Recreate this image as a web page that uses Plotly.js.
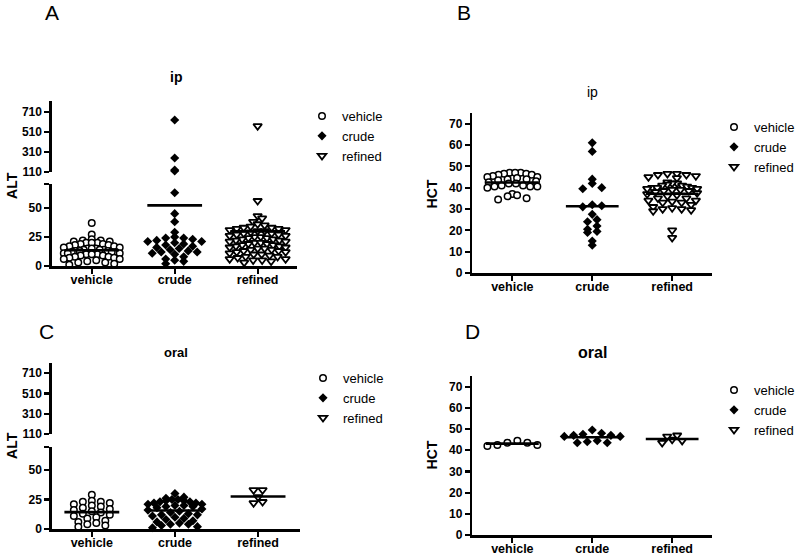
<!DOCTYPE html>
<html>
<head>
<meta charset="utf-8">
<script src="https://cdn.plot.ly/plotly-3.0.1.min.js"></script>
<style>html,body{margin:0;padding:0;background:#fff}#chart{width:800px;height:555px}</style>
</head>
<body>
<div id="chart"></div>
<script>
// ---------- data ----------
const groups = ['vehicle', 'crude', 'refined'];

// Panel A: ALT, ip
const altIpVehicle = [37, 27, 23, 22, 22, 21, 21, 20, 20, 20, 19, 19, 18, 18, 17, 17, 16, 16, 15, 15, 15, 14, 14, 14, 13, 13, 13, 12, 12, 12, 11, 11, 11, 10, 10, 10, 9, 9, 8, 8, 7, 7, 6, 6, 5, 4, 3, 3, 2, 1];
const altIpCrude = [630, 250, 130, 120, 63, 45, 38, 29, 25, 24, 24, 23, 22, 21, 21, 20, 19, 18, 17, 16, 15, 14, 13, 12, 12, 11, 10, 8, 6, 5, 4, 2];
const altIpRefined = [570, 56, 43, 41, 38, 36, 35, 34, 33, 33, 32, 32, 31, 31, 30, 30, 29, 28, 28, 27, 27, 26, 26, 25, 25, 24, 24, 23, 23, 22, 22, 21, 21, 20, 20, 19, 19, 18, 18, 17, 17, 16, 16, 15, 15, 14, 14, 13, 13, 12, 12, 11, 10, 10, 9, 8, 8, 7, 6, 6, 5, 5, 4, 3];

// Panel B: HCT, ip
const hctIpVehicle = [47, 46.5, 47, 46, 46.5, 47, 46, 45.5, 45, 45, 44.5, 44, 44, 43.5, 43, 42.5, 42, 42, 41, 40.5, 40.5, 40, 40.5, 41, 37, 36, 34.5, 35, 36.5];
const hctIpCrude = [61, 57, 44, 42, 40, 39.5, 32, 31.5, 31, 27.5, 25, 24, 22, 20.5, 19.5, 19, 15, 13];
const hctIpRefined = [46.5, 46.5, 46, 46, 45.5, 45, 44.5, 42.5, 42, 42, 41.5, 41, 41, 40.5, 40, 40, 40, 39.5, 39.5, 39, 39, 38.5, 38.5, 38, 37.5, 37, 36.5, 36, 35, 35, 34, 34, 33.5, 33, 33, 32, 31, 30.5, 30, 30, 29.5, 29, 20, 16.5];

// Panel C: ALT, oral
const altOralVehicle = [29, 24, 23, 23, 22, 21, 20, 19, 18, 17, 16, 15, 14, 13, 12, 11, 10, 9, 7, 6, 5, 4, 3, 2];
const altOralCrude = [30, 27, 26, 25, 25, 24, 24, 23, 23, 22, 22, 21, 21, 20, 20, 19, 19, 18, 17, 16, 15, 14, 13, 12, 12, 11, 10, 9, 8, 7, 6, 5, 4, 4, 3, 2, 1];
const altOralRefined = [33, 33, 27, 22, 23];

// Panel D: HCT, oral
const hctOralVehicle = [43.5, 42.5, 42, 44.5, 42.5, 43.5];
const hctOralCrude = [46.5, 47.5, 49.5, 44, 47, 48, 43.5, 46.5, 43.5, 47, 44.5];
const hctOralRefined = [47, 45, 43.5, 44.5, 46.5];

// axis ticks
const altLowTicks = [0, 25, 50];
const altHighTicks = [110, 310, 510, 710];
const hctTicks = [0, 10, 20, 30, 40, 50, 60, 70];
const altBreak = 110;

// ---------- layout helpers ----------
const W = 800, H = 555;
const FONT = 'Arial, "Liberation Sans", sans-serif';
const py = p => 1 - p / H;
const px = p => p / W;

const markerStyles = [
  {symbol: 'circle', size: 6.5, color: '#ffffff', line: {color: '#000000', width: 1.5}},
  {symbol: 'diamond', size: 7, color: '#000000', line: {color: '#000000', width: 0}},
  {symbol: 'triangle-down', size: 7.5, color: '#ffffff', line: {color: '#000000', width: 1.8}}
];

const panels = [
  {xa: 'x', xkey: 'xaxis', xdom: [52, 297], xr: [-0.48, 2.47], legend: 'legend',
   low: {ya: 'y', key: 'yaxis', dom: [266, 184], r: [0, 70.5], ticks: altLowTicks, cap: true},
   high: {ya: 'y2', key: 'yaxis2', dom: [172, 101], r: [109.5, 820], ticks: altHighTicks},
   data: [altIpVehicle, altIpCrude, altIpRefined], sw: {bin: 6, sp: 9, maxW: 56}},
  {xa: 'x2', xkey: 'xaxis2', xdom: [473, 713], xr: [-0.5, 2.5], legend: 'legend2',
   low: {ya: 'y3', key: 'yaxis3', dom: [273, 113], r: [0, 75], ticks: hctTicks},
   data: [hctIpVehicle, hctIpCrude, hctIpRefined], sw: {bin: 6, sp: 9.5, maxW: 50}},
  {xa: 'x3', xkey: 'xaxis3', xdom: [52, 300], xr: [-0.48, 2.5], legend: 'legend3',
   low: {ya: 'y4', key: 'yaxis4', dom: [529, 447], r: [0, 69.5], ticks: altLowTicks, cap: true},
   high: {ya: 'y5', key: 'yaxis5', dom: [434, 363], r: [109.5, 810], ticks: altHighTicks},
   data: [altOralVehicle, altOralCrude, altOralRefined], sw: {bin: 6, sp: 9, maxW: 54}},
  {xa: 'x4', xkey: 'xaxis4', xdom: [473, 713], xr: [-0.5, 2.5], legend: 'legend4',
   low: {ya: 'y6', key: 'yaxis6', dom: [535, 376], r: [0, 75], ticks: hctTicks},
   data: [hctOralVehicle, hctOralCrude, hctOralRefined], sw: {bin: 16, sp: 10, maxW: 56}}
];

// deterministic row-binned dot plot layout (Prism style): points that fall in the same
// pixel row are spread side by side; returns horizontal offsets in axis units
function swarm(vals, ppuY, ppuX, sw) {
  const rows = {};
  vals.forEach((v, i) => {
    const b = Math.floor(v * ppuY / sw.bin);
    (rows[b] = rows[b] || []).push(i);
  });
  const off = new Array(vals.length).fill(0);
  Object.keys(rows).forEach(k => {
    const ids = rows[k].sort((a, b) => vals[a] - vals[b]);
    const n = ids.length;
    const sp = Math.min(sw.sp, n > 1 ? sw.maxW / (n - 1) : sw.sp);
    const slots = [];
    for (let j = 0; j < n; j++) slots.push((j - (n - 1) / 2) * sp);
    const order = [];
    let l = 0, r = n - 1;
    while (l <= r) { order.push(l++); if (l <= r) order.push(r--); }
    ids.forEach((id, j) => { off[id] = slots[order[j]] / ppuX; });
  });
  return off;
}

const traces = [];
const layout = {
  width: W, height: H,
  margin: {l: 0, r: 0, t: 0, b: 0},
  paper_bgcolor: '#ffffff', plot_bgcolor: 'rgba(0,0,0,0)',
  font: {family: FONT, color: '#000000'},
  showlegend: true,
  annotations: []
};

function yAxisDef(spec, xa) {
  const tv = spec.ticks.slice();
  const tt = spec.ticks.map(String);
  if (spec.cap) { tv.push(spec.r[1] - 0.2); tt.push(''); }
  return {
    domain: [py(spec.dom[0]), py(spec.dom[1])], range: spec.r, anchor: xa,
    tickvals: tv, ticktext: tt, ticks: 'outside', ticklen: 5, tickwidth: 2.2, tickcolor: '#000',
    showline: true, linewidth: 2.6, linecolor: '#000', showgrid: false, zeroline: false,
    tickfont: {family: FONT, size: 12, weight: 'bold', color: '#000'}, fixedrange: true
  };
}

panels.forEach((P, pi) => {
  const xWidth = P.xdom[1] - P.xdom[0];
  const ppuX = xWidth / (P.xr[1] - P.xr[0]);
  layout[P.xkey] = {
    domain: [px(P.xdom[0]), px(P.xdom[1])], range: P.xr, anchor: P.low.ya,
    tickvals: [0, 1, 2], ticktext: groups, ticks: 'outside', ticklen: 5, tickwidth: 2.2, tickcolor: '#000',
    ticklabelstandoff: -5,
    showline: true, linewidth: 2.6, linecolor: '#000', showgrid: false, zeroline: false,
    tickfont: {family: FONT, size: 12.5, weight: 'bold', color: '#000'}, fixedrange: true
  };
  layout[P.low.key] = yAxisDef(P.low, P.xa);
  if (P.high) layout[P.high.key] = yAxisDef(P.high, P.xa);

  const ppuLow = (P.low.dom[0] - P.low.dom[1]) / (P.low.r[1] - P.low.r[0]);
  const ppuHigh = P.high ? (P.high.dom[0] - P.high.dom[1]) / (P.high.r[1] - P.high.r[0]) : 0;

  P.data.forEach((vals, gi) => {
    const lowVals = P.high ? vals.filter(v => v < altBreak) : vals.slice();
    const lowOff = swarm(lowVals, ppuLow, ppuX, P.sw);
    traces.push({
      type: 'scatter', mode: 'markers', name: groups[gi], legend: P.legend,
      x: lowOff.map(o => gi + o), y: lowVals, xaxis: P.xa, yaxis: P.low.ya,
      marker: markerStyles[gi], cliponaxis: false, hoverinfo: 'skip'
    });
    if (P.high) {
      const highVals = vals.filter(v => v >= altBreak);
      const highOff = swarm(highVals, ppuHigh, ppuX, P.sw);
      traces.push({
        type: 'scatter', mode: 'markers', name: groups[gi], showlegend: false,
        x: highOff.map(o => gi + o), y: highVals, xaxis: P.xa, yaxis: P.high.ya,
        marker: markerStyles[gi], cliponaxis: false, hoverinfo: 'skip'
      });
    }
  });
  // mean lines
  P.data.forEach((vals, gi) => {
    const m = vals.reduce((a, b) => a + b, 0) / vals.length;
    traces.push({
      type: 'scatter', mode: 'lines', showlegend: false, hoverinfo: 'skip',
      x: [gi - 0.33, gi + 0.33], y: [m, m], xaxis: P.xa, yaxis: P.low.ya,
      line: {color: '#000', width: 2.6}, cliponaxis: false
    });
  });
});

const legendBase = {xanchor: 'left', yanchor: 'top', bgcolor: 'rgba(0,0,0,0)', borderwidth: 0,
  font: {family: FONT, size: 13, color: '#000'}, itemwidth: 30, tracegroupgap: 0};
layout.legend = Object.assign({x: px(302), y: py(101)}, legendBase);
layout.legend2 = Object.assign({x: px(715), y: py(112)}, legendBase);
layout.legend3 = Object.assign({x: px(303), y: py(363)}, legendBase);
layout.legend4 = Object.assign({x: px(715), y: py(375)}, legendBase);

function ann(text, x, y, size, weight, angle) {
  layout.annotations.push({
    text: text, xref: 'paper', yref: 'paper', x: px(x), y: py(y), xanchor: 'center', yanchor: 'middle',
    showarrow: false, textangle: angle || 0, font: {family: FONT, size: size, weight: weight || 'normal', color: '#000'}
  });
}
// panel letters
ann('A', 52, 13, 21);
ann('B', 465, 13, 21);
ann('C', 47, 331, 21);
ann('D', 473, 331, 21);
// panel titles
ann('ip', 176, 77, 14, 'bold');
ann('ip', 593, 92, 14, 'normal');
ann('oral', 176, 352, 13, 'bold');
ann('oral', 593, 352, 16, 'bold');
// y axis titles
ann('ALT', 12, 185, 14, 'bold', -90);
ann('HCT', 433, 194, 14, 'bold', -90);
ann('ALT', 12, 445, 14, 'bold', -90);
ann('HCT', 433, 455, 14, 'bold', -90);

Plotly.newPlot('chart', traces, layout, {displayModeBar: false, staticPlot: true});
</script>
</body>
</html>
